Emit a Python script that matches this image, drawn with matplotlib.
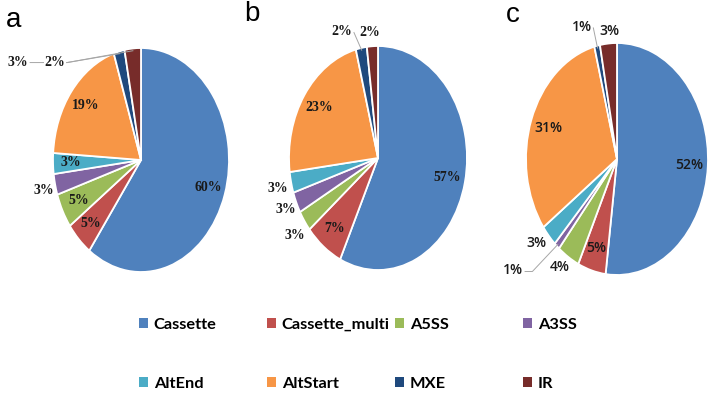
import numpy as np
import matplotlib.pyplot as plt
from matplotlib.patches import Patch

categories = ['Cassette', 'Cassette_multi', 'A5SS', 'A3SS',
              'AltEnd', 'AltStart', 'MXE', 'IR']
colors = ['#4F81BD', '#C0504D', '#9BBB59', '#8064A2',
          '#4BACC6', '#F79646', '#1F497D', '#772C2A']

pct_a = [60, 5, 5, 3, 3, 19, 2, 3]
pct_b = [57, 7, 3, 3, 3, 23, 2, 2]
pct_c = [52, 5, 4, 1, 3, 31, 1, 3]

W, H = 709, 405
fig = plt.figure(figsize=(W / 100, H / 100), dpi=100)

serif_bold = dict(family='Liberation Serif', weight='bold', size=10, color='#1a1a1a')
calibri_like = dict(family='Open Sans', weight='semibold', size=10, color='#1a1a1a')

# pixel box of each ellipse (cx, cy, rx, ry), label style, moved labels
# moved: idx -> (x, y, leader points or None); with leaders text is right aligned
panels = [
    ('a', pct_a, (141, 160, 88, 112), serif_bold, (6, 20),
     {6: (-0.86, 0.87, [(-0.84, 0.87)]),
      7: (-1.28, 0.87, [(-1.26, 0.87), (-0.84, 0.87)]),
      3: (-1.11, -0.27, None)}),
    ('b', pct_b, (378, 158, 89, 112), serif_bold, (244, 14),
     {6: (-0.29, 1.13, [(-0.27, 1.12)]),
      7: (-0.09, 1.12, None),
      2: (-0.94, -0.69, None),
      3: (-1.04, -0.46, None),
      4: (-1.13, -0.27, None)}),
    ('c', pct_c, (617, 159, 91, 116), calibri_like, (506, 15),
     {6: (-0.28, 1.14, [(-0.26, 1.13)]),
      7: (-0.08, 1.10, None),
      4: (-0.88, -0.72, None),
      3: (-1.03, -0.96, [(-1.01, -0.97), (-0.93, -0.97)]),
      2: (-0.63, -0.93, None)}),
]

for letter, vals, (cx, cy, rx, ry), tstyle, (lx, ly), moved in panels:
    ax = fig.add_axes([(cx - rx) / W, (H - cy - ry) / H, 2 * rx / W, 2 * ry / H])
    wedges, _, autotexts = ax.pie(
        vals, colors=colors, startangle=90, counterclock=False,
        autopct=lambda p: f'{p:.0f}%', pctdistance=0.8,
        wedgeprops=dict(edgecolor='white', linewidth=1.3),
        textprops=tstyle)
    ax.set_aspect('auto')
    ax.set_xlim(-1, 1)
    ax.set_ylim(-1, 1)
    for i, t in enumerate(autotexts):
        t.set_clip_on(False)
        if i not in moved:
            continue
        x, y, leader = moved[i]
        t.set_position((x, y))
        t.set_zorder(5)
        if leader:
            t.set_ha('right')
            t.set_va('center')
            t.set_bbox(dict(facecolor='white', edgecolor='none', pad=0.5))
            w = wedges[i]
            mid = np.deg2rad((w.theta1 + w.theta2) / 2)
            pts = leader + [(0.98 * np.cos(mid), 0.98 * np.sin(mid))]
            xs, ys = zip(*pts)
            ax.plot(xs, ys, color='#a6a6a6', lw=0.7, zorder=4, clip_on=False)
    fig.text(lx / W, 1 - ly / H, letter, fontsize=20, family='Liberation Sans',
             va='center', ha='left')

# legend: four columns, two rows
handles = [Patch(facecolor=c, edgecolor='none') for c in colors]
col_x = [139, 267, 395, 523]
for j, x in enumerate(col_x):
    fig.legend([handles[j], handles[j + 4]], [categories[j], categories[j + 4]],
               loc='upper left', bbox_to_anchor=(x / W, 1 - 318 / H),
               frameon=False, handlelength=0.55, handleheight=0.55,
               handletextpad=0.35, labelspacing=2.75, borderpad=0,
               borderaxespad=0,
               prop=dict(family='Lato', weight='bold', size=11.8))

fig.savefig('out.png', dpi=100)
